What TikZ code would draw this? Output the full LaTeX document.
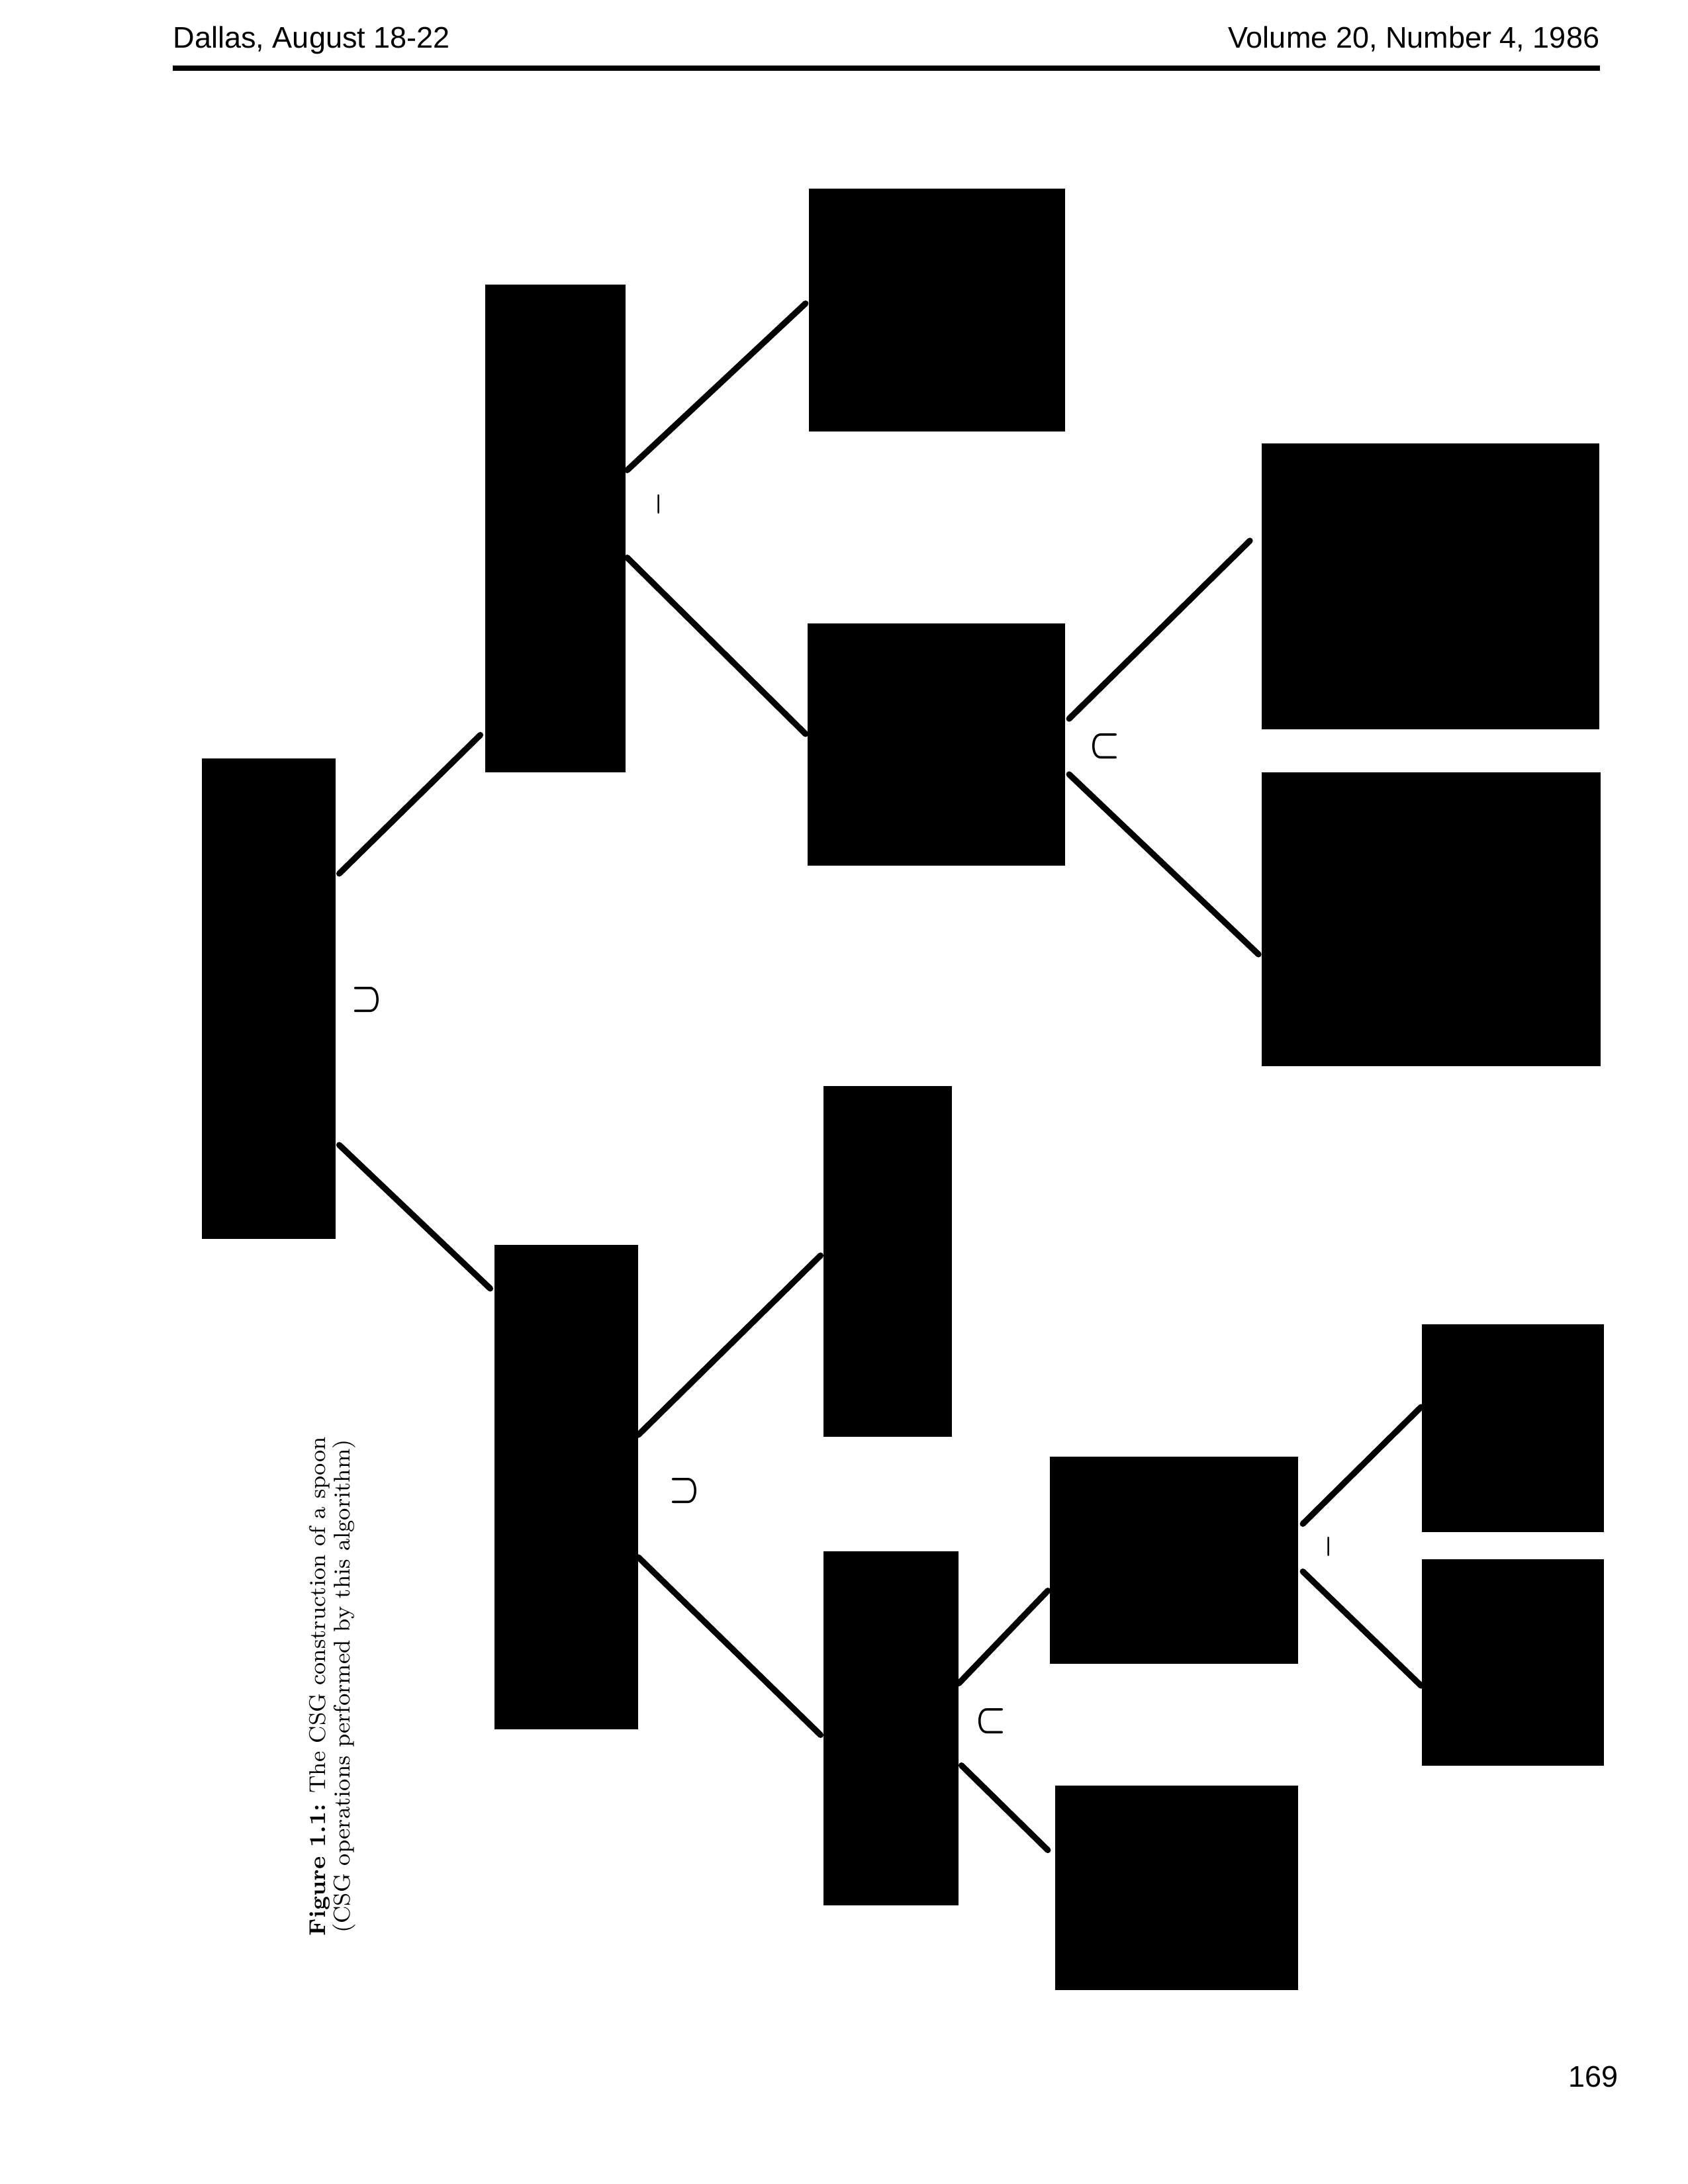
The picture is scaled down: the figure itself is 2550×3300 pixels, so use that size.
\documentclass[tikz,border=0pt]{standalone}
\usepackage{amssymb}
\usepackage{amsmath}
\usepackage{fontspec}
\newfontfamily\hdrfont{Liberation Sans}
\usetikzlibrary{calc,positioning}

\begin{document}
\begin{tikzpicture}[x=0.0846667mm,y=-0.0846667mm,
blk/.style={fill=black,inner sep=0pt},
op/.style={rotate=90,inner sep=0pt,font=\fontsize{14}{16}\selectfont\boldmath},
hdr/.style={inner sep=0pt,font=\hdrfont\fontsize{10.85}{12}\selectfont},
edge/.style={line width=2.2pt,line cap=round}]
\useasboundingbox (0,0) rectangle (2550,3300);

% page head
\node[anchor=base west,hdr] (head1) at (261,72) {Dallas, August 18-22};
\node[anchor=base east,hdr] (head2) at (2417,72) {Volume 20, Number 4, 1986};
\draw[line width=2pt] (261,103) -- (2417,103);
\node[anchor=base east,hdr] (pgno) at (2445,3153) {169};

% the tree
\node (v0) at (406,1509) [blk,minimum width=48.48pt,minimum height=174.72pt] {};
\node (v1) at (839,798.5) [blk,minimum width=50.88pt,minimum height=177.36pt] {};
\node (v11) at (1415.5,468.5) [blk,minimum width=93.36pt,minimum height=88.56pt] {};
\node (v12) at (1414.5,1125) [blk,minimum width=93.84pt,minimum height=88.32pt] {};
\node (v121) at (2161,886) [blk,minimum width=122.88pt,minimum height=104.16pt] {};
\node (v122) at (2162,1389) [blk,minimum width=123.36pt,minimum height=107.04pt] {};
\node (v2) at (855.5,2247) [blk,minimum width=52.08pt,minimum height=176.16pt] {};
\node (v21) at (1341,1906) [blk,minimum width=46.56pt,minimum height=127.68pt] {};
\node (v22) at (1346,2611.5) [blk,minimum width=48.96pt,minimum height=128.88pt] {};
\node (v221) at (1773.5,2357.5) [blk,minimum width=90.48pt,minimum height=75.6pt] {};
\node (v222) at (1777.5,2852.5) [blk,minimum width=88.56pt,minimum height=74.64pt] {};
\node (v2211) at (2285,2158) [blk,minimum width=66.24pt,minimum height=75.84pt] {};
\node (v2212) at (2285,2512) [blk,minimum width=66.24pt,minimum height=75.36pt] {};

% operators
\node (op0) at (555,1511) [op] {$\cup$};
\node (op1) at (995,762) [op,font=\normalsize\boldmath] {$-$};
\node (op12) at (1670,1128) [op] {$\cap$};
\node (op2) at (1035,2253) [op] {$\cup$};
\node (op22) at (1498,2601) [op] {$\cap$};
\node (op221) at (2007,2337) [op,font=\normalsize\boldmath] {$-$};

\draw[edge] ($(v0.east)+(5,-189)$) -- ($(v1.west)+(-7,312)$);
\draw[edge] ($(v0.east)+(5,221)$) -- ($(v2.west)+(-6,-300)$);
\draw[edge] ($(v1.east)+(2,-88)$) -- ($(v11.west)+(-4,-10)$);
\draw[edge] ($(v1.east)+(2,44)$) -- ($(v12.west)+(-2,-16)$);
\draw[edge] ($(v12.east)+(5,-39)$) -- ($(v121.west)+(-17,-69)$);
\draw[edge] ($(v12.east)+(5,45)$) -- ($(v122.west)+(-4,53)$);
\draw[edge] ($(v2.east)+(0,-79)$) -- ($(v21.west)+(-4,-9)$);
\draw[edge] ($(v2.east)+(0,106)$) -- ($(v22.west)+(-4,10)$);
\draw[edge] ($(v22.east)+(0,-68)$) -- ($(v221.west)+(-2,46)$);
\draw[edge] ($(v22.east)+(4,56)$) -- ($(v222.west)+(-10,-57)$);
\draw[edge] ($(v221.east)+(6,-55)$) -- ($(v2211.west)+(0,-32)$);
\draw[edge] ($(v221.east)+(6,17)$) -- ($(v2212.west)+(0,35)$);

% caption
\node (cap) at (502,2548) [rotate=90,align=center,font=\fontsize{8.3}{7.8}\selectfont]
{{\bfseries Figure 1.1:} The CSG construction of a spoon\\(CSG operations performed by this algorithm)};

\end{tikzpicture}
\end{document}
